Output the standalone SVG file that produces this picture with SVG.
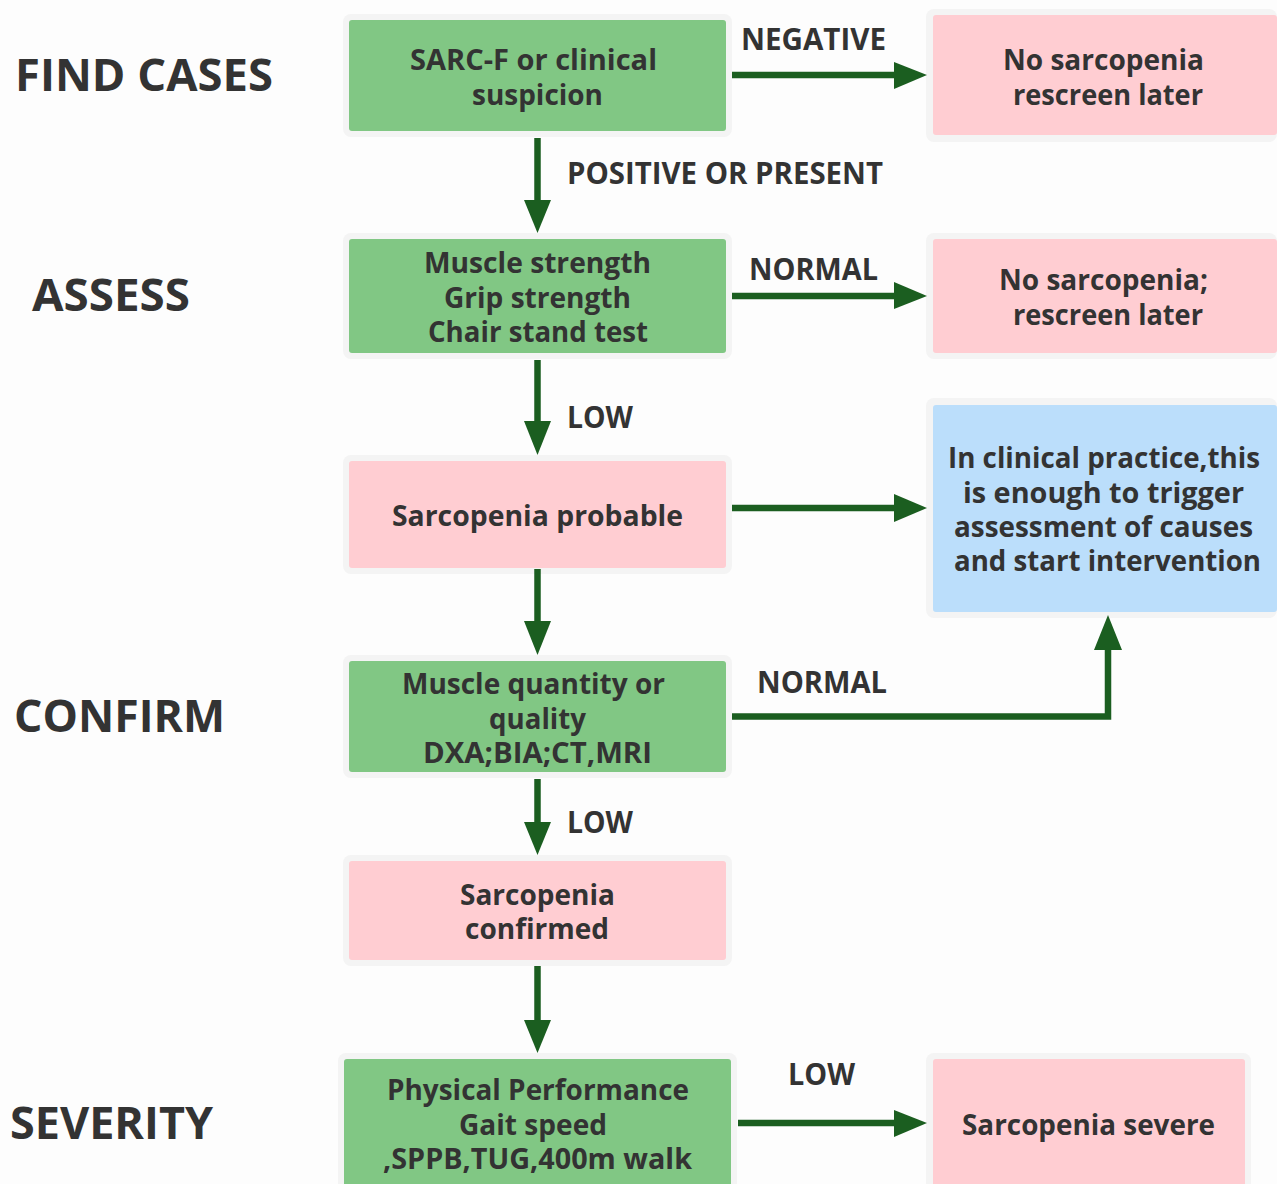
<svg xmlns="http://www.w3.org/2000/svg" width="1277" height="1184" viewBox="0 0 1277 1184">
<style>
text{font-family:"Open Sans","Noto Sans","Liberation Sans",sans-serif;font-weight:700;fill:#333333;text-anchor:middle}
.n{font-size:29px}
.l{font-size:29.5px}
.h{font-size:45px}
.halo{fill:#f4f4f4}
.g{fill:#81c784}
.p{fill:#ffcdd2}
.b{fill:#bbdefb}
.c{fill:none;stroke:#1b5e20;stroke-width:6.5}
.a{fill:#1b5e20}
</style>
<rect width="1277" height="1184" fill="#fdfdfd"/>
<g id="stage-labels">
<text class="h" x="144" y="90.500" textLength="258" lengthAdjust="spacingAndGlyphs">FIND CASES</text>
<text class="h" x="111" y="310.500" textLength="158" lengthAdjust="spacingAndGlyphs">ASSESS</text>
<text class="h" x="119.500" y="731.500" textLength="211" lengthAdjust="spacingAndGlyphs">CONFIRM</text>
<text class="h" x="111.500" y="1138.500" textLength="203" lengthAdjust="spacingAndGlyphs">SEVERITY</text>
</g>
<g id="edge-labels">
<text class="l" x="813.500" y="49.500" textLength="145" lengthAdjust="spacingAndGlyphs">NEGATIVE</text>
<text class="l" x="725" y="184" textLength="316" lengthAdjust="spacingAndGlyphs">POSITIVE OR PRESENT</text>
<text class="l" x="813.500" y="279.500" textLength="129" lengthAdjust="spacingAndGlyphs">NORMAL</text>
<text class="l" x="600" y="428" textLength="66" lengthAdjust="spacingAndGlyphs">LOW</text>
<text class="l" x="822" y="692.500" textLength="130" lengthAdjust="spacingAndGlyphs">NORMAL</text>
<text class="l" x="600" y="832.500" textLength="66" lengthAdjust="spacingAndGlyphs">LOW</text>
<text class="l" x="821.500" y="1084.500" textLength="67" lengthAdjust="spacingAndGlyphs">LOW</text>
</g>
<g id="node-sarcf"><rect class="halo" x="343" y="14" width="389" height="123" rx="8"/><rect class="g" x="349" y="20" width="377" height="111" rx="3"/>
<text class="n" x="533.500" y="70" textLength="247" lengthAdjust="spacingAndGlyphs">SARC-F or clinical</text><text class="n" x="537.500" y="105" textLength="131" lengthAdjust="spacingAndGlyphs">suspicion</text></g>
<g id="node-no1"><rect class="halo" x="926" y="9" width="351" height="133" rx="8"/><rect class="p" x="933" y="15" width="344" height="120" rx="3"/>
<text class="n" x="1103.500" y="70" textLength="201" lengthAdjust="spacingAndGlyphs">No sarcopenia</text><text class="n" x="1108" y="105" textLength="190" lengthAdjust="spacingAndGlyphs">rescreen later</text></g>
<g id="node-strength"><rect class="halo" x="343" y="233" width="389" height="126" rx="8"/><rect class="g" x="349" y="239" width="377" height="114" rx="3"/>
<text class="n" x="537.500" y="273" textLength="227" lengthAdjust="spacingAndGlyphs">Muscle strength</text><text class="n" x="537.500" y="308" textLength="187" lengthAdjust="spacingAndGlyphs">Grip strength</text><text class="n" x="538" y="342" textLength="220" lengthAdjust="spacingAndGlyphs">Chair stand test</text></g>
<g id="node-no2"><rect class="halo" x="926" y="233" width="351" height="126" rx="8"/><rect class="p" x="933" y="239" width="344" height="114" rx="3"/>
<text class="n" x="1103.500" y="290" textLength="209" lengthAdjust="spacingAndGlyphs">No sarcopenia;</text><text class="n" x="1108" y="325" textLength="190" lengthAdjust="spacingAndGlyphs">rescreen later</text></g>
<g id="node-probable"><rect class="halo" x="343" y="455" width="389" height="119" rx="8"/><rect class="p" x="349" y="461" width="377" height="107" rx="3"/>
<text class="n" x="537.500" y="526" textLength="291" lengthAdjust="spacingAndGlyphs">Sarcopenia probable</text></g>
<g id="node-practice"><rect class="halo" x="926" y="398" width="351" height="220" rx="8"/><rect class="b" x="933" y="405" width="344" height="207" rx="3"/>
<text class="n" x="1104" y="468" textLength="312" lengthAdjust="spacingAndGlyphs">In clinical practice,this</text><text class="n" x="1103.500" y="503" textLength="281" lengthAdjust="spacingAndGlyphs">is enough to trigger</text><text class="n" x="1103.500" y="537" textLength="299" lengthAdjust="spacingAndGlyphs">assessment of causes</text><text class="n" x="1107.500" y="571" textLength="307" lengthAdjust="spacingAndGlyphs">and start intervention</text></g>
<g id="node-quantity"><rect class="halo" x="343" y="655" width="389" height="123" rx="8"/><rect class="g" x="349" y="661" width="377" height="111" rx="3"/>
<text class="n" x="533.500" y="694" textLength="263" lengthAdjust="spacingAndGlyphs">Muscle quantity or</text><text class="n" x="537.500" y="729" textLength="97" lengthAdjust="spacingAndGlyphs">quality</text><text class="n" x="537.500" y="763" textLength="229" lengthAdjust="spacingAndGlyphs">DXA;BIA;CT,MRI</text></g>
<g id="node-confirmed"><rect class="halo" x="343" y="855" width="389" height="111" rx="8"/><rect class="p" x="349" y="861" width="377" height="99" rx="3"/>
<text class="n" x="537.500" y="905" textLength="155" lengthAdjust="spacingAndGlyphs">Sarcopenia</text><text class="n" x="537" y="939" textLength="144" lengthAdjust="spacingAndGlyphs">confirmed</text></g>
<g id="node-performance"><rect class="halo" x="338" y="1053" width="399" height="140" rx="8"/><rect class="g" x="344" y="1059" width="387" height="130" rx="3"/>
<text class="n" x="538" y="1100" textLength="302" lengthAdjust="spacingAndGlyphs">Physical Performance</text><text class="n" x="533" y="1135" textLength="148" lengthAdjust="spacingAndGlyphs">Gait speed</text><text class="n" x="537.500" y="1169" textLength="309" lengthAdjust="spacingAndGlyphs">,SPPB,TUG,400m walk</text></g>
<g id="node-severe"><rect class="halo" x="926" y="1053" width="325" height="140" rx="8"/><rect class="p" x="933" y="1059" width="312" height="130" rx="3"/>
<text class="n" x="1088.500" y="1135" textLength="253" lengthAdjust="spacingAndGlyphs">Sarcopenia severe</text></g>
<g id="connectors">
<path class="c" d="M732 75H900"/><polygon class="a" points="894,62 927,75 894,89"/>
<path class="c" d="M537.500 138V205"/><polygon class="a" points="524,200 551,200 537.500,233"/>
<path class="c" d="M732 296H900"/><polygon class="a" points="894,282 927,296 894,309"/>
<path class="c" d="M537.500 360V425"/><polygon class="a" points="524,421 551,421 537.500,455"/>
<path class="c" d="M732 508H900"/><polygon class="a" points="894,494 927,508 894,522"/>
<path class="c" d="M537.500 569V625"/><polygon class="a" points="524,621 551,621 537.500,655"/>
<path class="c" d="M732 716.500H1108V645"/><polygon class="a" points="1094,650 1122,650 1108,615"/>
<path class="c" d="M537.500 779V825"/><polygon class="a" points="524,822 551,822 537.500,855"/>
<path class="c" d="M537.500 966V1025"/><polygon class="a" points="524,1020 551,1020 537.500,1053"/>
<path class="c" d="M738 1123H900"/><polygon class="a" points="894,1110 927,1123 894,1137"/>
</g>
</svg>
